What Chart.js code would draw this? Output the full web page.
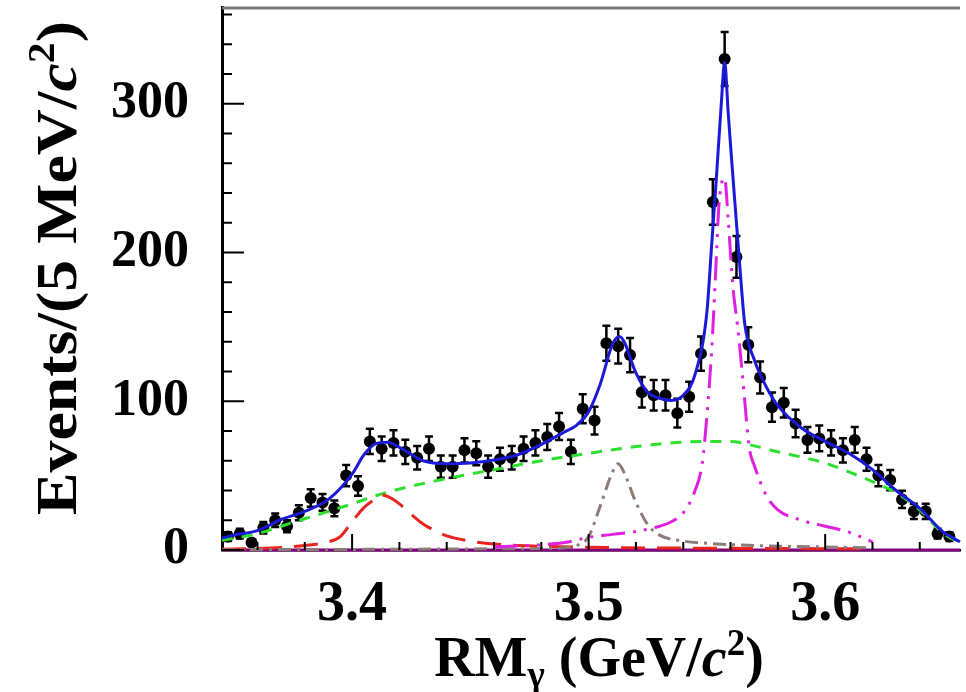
<!DOCTYPE html>
<html>
<head>
<meta charset="utf-8">
<script src="https://cdn.jsdelivr.net/npm/chart.js@4.4.1/dist/chart.umd.min.js"></script>
<style>
  html, body { margin: 0; padding: 0; background: #fff; }
  #contenedor { width: 966px; height: 692px; position: relative; }
</style>
</head>
<body>
<div id="contenedor"><canvas id="grafico"></canvas></div>
<script>
// histograma: bins de 5 MeV
const binStart = 3.3475;
const binWidth = 0.005;
const counts = [9, 11, 5, 15, 20, 16, 25, 35, 32, 28,
                50, 43, 73, 68, 72, 66, 62, 68, 56, 56,
                67, 65, 56, 61, 62, 68, 72, 76, 83, 66,
                95, 87, 139, 137, 131, 106, 104, 104, 92, 103,
                132, 234, 330, 197, 138, 116, 96, 99, 85, 74,
                75, 72, 67, 74, 61, 50, 47, 34, 26, 26,
                11, 9];

// ajuste total (azul)
const totalX = [3.345, 3.35, 3.36, 3.37, 3.38, 3.39, 3.40, 3.405, 3.41, 3.415, 3.42, 3.43, 3.44, 3.45, 3.46,
                3.47, 3.48, 3.49, 3.495, 3.50, 3.505, 3.51, 3.513, 3.515, 3.52, 3.525, 3.53, 3.535, 3.54,
                3.545, 3.55, 3.552, 3.554, 3.556, 3.5575, 3.559, 3.56, 3.562, 3.564, 3.566, 3.57, 3.575,
                3.58, 3.59, 3.60, 3.61, 3.62, 3.63, 3.64, 3.65, 3.657];
const totalY = [8, 10, 13, 20.5, 26, 34, 51, 64, 71.5, 72.5, 69, 60, 58, 58.5, 60.5,
                64, 71, 79.5, 84, 93, 112, 138, 143.5, 140, 119, 106, 102, 100.5, 104,
                118, 160, 205, 250, 298, 328, 294, 272, 230, 189, 152, 128, 110,
                97, 82, 73, 65, 54, 40, 28, 12, 5.5];

// fondo (verde)
const fondoX = [3.345, 3.36, 3.37, 3.38, 3.39, 3.40, 3.41, 3.42, 3.44, 3.46, 3.48, 3.50, 3.52, 3.54,
                3.56, 3.57, 3.58, 3.59, 3.60, 3.61, 3.62, 3.63, 3.64, 3.65, 3.657];
const fondoY = [6.5, 11, 16, 21, 26, 31, 36.5, 41, 48, 54, 60, 65, 69.5, 72.5,
                73, 70, 66, 62.5, 58.5, 52.5, 46, 38.5, 27, 11, 5];

// chi_c0 (rojo)
const chic0X = [3.345, 3.36, 3.37, 3.38, 3.39, 3.395, 3.40, 3.405, 3.41, 3.4125, 3.415, 3.42, 3.425,
                3.43, 3.435, 3.44, 3.45, 3.46, 3.48, 3.50, 3.55, 3.60, 3.62];
const chic0Y = [0.5, 1, 1.7, 3, 5.5, 9, 19, 28.5, 34.5, 37, 36, 31, 24,
                17.5, 13, 9.5, 6, 4, 2.5, 1.8, 1.2, 0.9, 0.8];

// chi_c1 (gris)
const chic1X = [3.345, 3.40, 3.46, 3.48, 3.49, 3.495, 3.50, 3.505, 3.51, 3.5125, 3.515, 3.52, 3.525,
                3.53, 3.54, 3.55, 3.57, 3.60, 3.62];
const chic1Y = [0.2, 0.4, 0.8, 1, 1.5, 3, 9, 30, 52, 58, 52, 32, 17,
                10, 6, 4.5, 3, 2, 1.5];

// chi_c2 (magenta)
const chic2X = [3.46, 3.48, 3.49, 3.50, 3.51, 3.52, 3.53, 3.535, 3.54, 3.545, 3.548, 3.55, 3.552,
                3.5535, 3.555, 3.556, 3.5575, 3.559, 3.561, 3.563, 3.565, 3.568, 3.57, 3.575,
                3.58, 3.59, 3.60, 3.61, 3.62];
const chic2Y = [2, 3.5, 5, 8.5, 10.5, 12.5, 16, 19, 25, 40, 58, 90, 134,
                180, 230, 245, 250, 222, 177, 150, 118, 68, 57, 37,
                27, 20, 16, 12, 5.5];

// componente plana sobre el eje (violeta)
const planoX = [3.345, 3.657];
const planoY = [0, 0];

const xTickLabels = [3.4, 3.5, 3.6];
const yTickLabels = [0, 100, 200, 300];

const fuente = '"Liberation Serif", "Times New Roman", serif';

const binCenters = counts.map((c, i) => +(binStart + i * binWidth).toFixed(4));
const aPuntos = (xs, ys) => xs.map((x, i) => ({ x: x, y: ys[i] }));

function curva(etiqueta, xs, ys, color, dash, orden) {
    return {
        label: etiqueta,
        data: aPuntos(xs, ys),
        showLine: true,
        borderColor: color,
        borderWidth: 3,
        borderDash: dash,
        pointRadius: 0,
        cubicInterpolationMode: 'monotone',
        order: orden,
        clip: 3
    };
}

// barras de error sqrt(N), dibujadas junto con los puntos
const barrasError = {
    id: 'barrasError',
    afterDatasetDraw(chart, args) {
        if (args.index !== 0) return;
        const ctx = chart.ctx;
        const x = chart.scales.x, y = chart.scales.y;
        ctx.save();
        ctx.strokeStyle = '#000';
        ctx.lineWidth = 2.5;
        counts.forEach((n, i) => {
            const err = Math.sqrt(n);
            const px = x.getPixelForValue(binCenters[i]);
            const y1 = y.getPixelForValue(n + err);
            const y2 = y.getPixelForValue(Math.max(n - err, 0));
            ctx.beginPath();
            ctx.moveTo(px, y1); ctx.lineTo(px, y2);
            ctx.moveTo(px - 4, y1); ctx.lineTo(px + 4, y1);
            ctx.moveTo(px - 4, y2); ctx.lineTo(px + 4, y2);
            ctx.stroke();
        });
        ctx.restore();
    }
};

// texto con subindices, superindices y cursiva
function textoRico(ctx, partes, cx, cy, size) {
    const estilo = p => {
        if (p[1] === 'i') return `italic bold ${size}px ${fuente}`;
        if (p[1] === 'sub' || p[1] === 'sup') return `bold ${Math.round(size * 0.66)}px ${fuente}`;
        return `bold ${size}px ${fuente}`;
    };
    let total = 0;
    partes.forEach(p => { ctx.font = estilo(p); total += ctx.measureText(p[0]).width; });
    let px = cx - total / 2;
    partes.forEach(p => {
        ctx.font = estilo(p);
        let dy = 0;
        if (p[1] === 'sub') dy = size * 0.2;
        if (p[1] === 'sup') dy = -size * 0.38;
        ctx.fillText(p[0], px, cy + dy);
        px += ctx.measureText(p[0]).width;
    });
}

const marco = {
    id: 'marco',
    afterDraw(chart) {
        const ctx = chart.ctx;
        const a = chart.chartArea;
        const x = chart.scales.x, y = chart.scales.y;
        ctx.save();
        // borde superior
        ctx.strokeStyle = '#7a7a7a';
        ctx.lineWidth = 3;
        ctx.beginPath();
        ctx.moveTo(a.left, a.top + 1); ctx.lineTo(a.right, a.top + 1);
        ctx.stroke();
        // marcas hacia dentro
        ctx.strokeStyle = '#000';
        ctx.lineWidth = 2;
        ctx.beginPath();
        for (let v = 0; v <= 360; v += 20) {
            const py = y.getPixelForValue(v);
            const largo = v % 100 === 0 ? 22 : 10;
            ctx.moveTo(a.left, py); ctx.lineTo(a.left + largo, py);
        }
        for (let k = 0; k <= 14; k++) {
            const v = 3.36 + k * 0.02;
            const px = x.getPixelForValue(v);
            const largo = (k % 5 === 2) ? 16 : 8;
            ctx.moveTo(px, a.bottom); ctx.lineTo(px, a.bottom - largo);
        }
        ctx.stroke();
        // titulos de los ejes
        ctx.fillStyle = '#000';
        ctx.textBaseline = 'alphabetic';
        textoRico(ctx, [['RM', 'n'], ['\u03b3', 'sub'], [' (GeV/', 'n'], ['c', 'i'], ['2', 'sup'], [')', 'n']],
                  599, 676, 56);
        ctx.translate(76, 268);
        ctx.rotate(-Math.PI / 2);
        ctx.scale(1.1, 1);
        textoRico(ctx, [['Events/(5 MeV/', 'n'], ['c', 'i'], ['2', 'sup'], [')', 'n']], 0, 0, 58);
        ctx.restore();
    }
};

const sinRelleno = s => { s.paddingTop = 0; s.paddingBottom = 0; s.paddingLeft = 0; s.paddingRight = 0; };

new Chart(document.getElementById('grafico'), {
    type: 'scatter',
    data: {
        datasets: [
            {
                label: 'Datos',
                data: aPuntos(binCenters, counts),
                pointRadius: 6,
                pointBackgroundColor: '#000',
                pointBorderWidth: 0,
                showLine: false,
                order: 10
            },
            Object.assign(curva('Plano', planoX, planoY, '#800080', [], 8), { clip: false }),
            curva('Fondo', fondoX, fondoY, '#2ee02e', [11, 9], 6),
            curva('chi_c0', chic0X, chic0Y, '#e8241e', [24, 12], 5),
            curva('chi_c1', chic1X, chic1Y, '#8c7c78', [13, 6, 3, 6], 4),
            curva('chi_c2', chic2X, chic2Y, '#e020e0', [24, 8, 3, 8, 3, 8], 3),
            curva('Total', totalX, totalY, '#1a1ad8', [], 1)
        ]
    },
    options: {
        responsive: true,
        maintainAspectRatio: false,
        animation: false,
        layout: { padding: { top: 7, right: 0, left: 0, bottom: 0 } },
        plugins: { legend: { display: false }, tooltip: { enabled: false } },
        scales: {
            x: {
                type: 'linear',
                min: 3.345,
                max: 3.657,
                grid: { display: false, drawTicks: false },
                border: { display: true, color: '#000', width: 2.5 },
                ticks: {
                    autoSkip: false,
                    maxRotation: 0,
                    padding: 22,
                    color: '#000',
                    font: { family: fuente, size: 56, weight: 'bold' },
                    callback: v => v.toFixed(1)
                },
                afterBuildTicks: s => { s.ticks = xTickLabels.map(v => ({ value: v })); },
                afterFit: s => { s.height = 142; sinRelleno(s); }
            },
            y: {
                min: 0,
                max: 365,
                grid: { display: false, drawTicks: false },
                border: { display: true, color: '#000', width: 3 },
                ticks: {
                    autoSkip: false,
                    padding: 33,
                    color: '#000',
                    font: { family: fuente, size: 52, weight: 'bold' },
                    callback: v => String(v)
                },
                afterBuildTicks: s => { s.ticks = yTickLabels.map(v => ({ value: v })); },
                afterFit: s => { s.width = 222; sinRelleno(s); }
            }
        }
    },
    plugins: [barrasError, marco]
});
</script>
</body>
</html>
